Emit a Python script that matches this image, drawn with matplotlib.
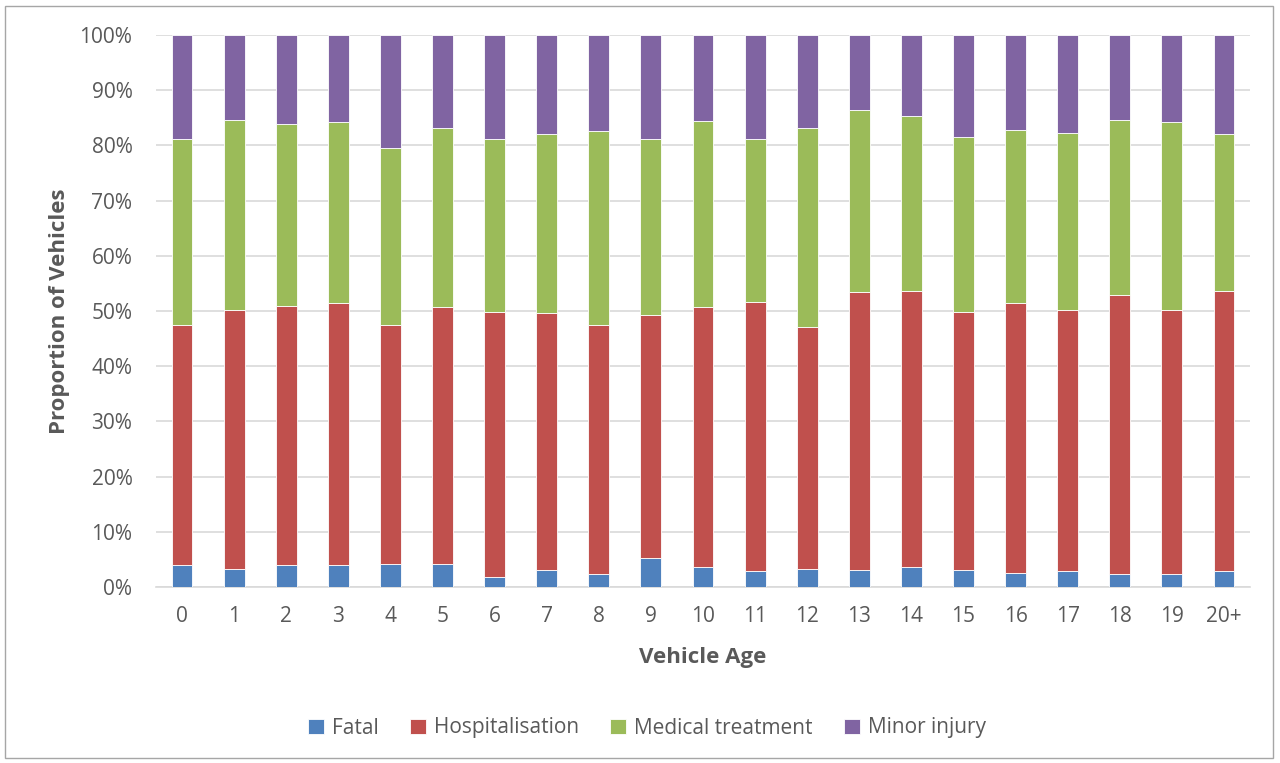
import matplotlib
matplotlib.use("Agg")
import matplotlib.pyplot as plt
from matplotlib.patches import Rectangle
import numpy as np

# Vehicle age categories
ages = ["0", "1", "2", "3", "4", "5", "6", "7", "8", "9", "10",
        "11", "12", "13", "14", "15", "16", "17", "18", "19", "20+"]

# Share of vehicles by injury severity (% of each age group)
fatal = [4.0, 3.3, 4.0, 4.0, 4.2, 4.2, 1.8, 3.1, 2.4, 5.3, 3.6,
         2.9, 3.3, 3.1, 3.6, 3.1, 2.5, 2.9, 2.4, 2.4, 2.9]
hospitalisation = [43.5, 46.9, 46.9, 47.4, 43.3, 46.5, 48.0, 46.5, 45.1, 44.0, 47.1,
                   48.7, 43.8, 50.3, 50.0, 46.7, 48.9, 47.3, 50.5, 47.8, 50.7]
medical_treatment = [33.7, 34.4, 33.0, 32.8, 32.0, 32.5, 31.4, 32.5, 35.1, 31.9, 33.7,
                     29.6, 36.1, 33.0, 31.7, 31.7, 31.4, 32.0, 31.7, 34.0, 28.5]
minor_injury = [18.8, 15.4, 16.1, 15.8, 20.5, 16.8, 18.8, 17.9, 17.4, 18.8, 15.6,
                18.8, 16.8, 13.6, 14.7, 18.5, 17.2, 17.8, 15.4, 15.8, 17.9]

series = [
    ("Fatal", fatal, "#4F81BD"),
    ("Hospitalisation", hospitalisation, "#C0504D"),
    ("Medical treatment", medical_treatment, "#9BBB59"),
    ("Minor injury", minor_injury, "#8064A2"),
]

plt.rcParams["font.family"] = ["Open Sans", "DejaVu Sans"]
text_color = "#595959"

fig = plt.figure(figsize=(12.8, 7.63), dpi=100)
ax = fig.add_axes([156 / 1280, 1 - 587 / 763, (1250 - 156) / 1280, (587 - 35) / 763])

x = np.arange(len(ages))
bottom = np.zeros(len(ages))
handles = []
for name, vals, color in series:
    v = np.array(vals, dtype=float)
    b = ax.bar(x, v, width=0.4, bottom=bottom, color=color, edgecolor="white",
               linewidth=0.6, label=name, zorder=3)
    handles.append(b)
    bottom += v

ax.set_xlim(-0.5, len(ages) - 0.5)
ax.set_ylim(0, 100)
ax.set_yticks(np.arange(0, 101, 10))
ax.set_yticklabels([f"{t}%" for t in range(0, 101, 10)])
ax.set_xticks(x)
ax.set_xticklabels(ages)

ax.grid(axis="y", color="#D9D9D9", linewidth=1.2, zorder=0)
for side in ["top", "right", "left"]:
    ax.spines[side].set_visible(False)
ax.spines["bottom"].set_color("#D9D9D9")
ax.spines["bottom"].set_linewidth(1.2)
ax.tick_params(axis="both", length=0, labelsize=15, colors=text_color)
ax.tick_params(axis="y", pad=17)
ax.tick_params(axis="x", pad=14)

ax.set_ylabel("Proportion of Vehicles", fontsize=16, fontweight="bold",
              color=text_color, labelpad=7)
ax.set_xlabel("Vehicle Age", fontsize=16, fontweight="bold",
              color=text_color, labelpad=14)

fig.legend(handles=handles, labels=[s[0] for s in series], loc="center",
           bbox_to_anchor=(647 / 1280, 1 - 728 / 763), ncol=4, frameon=False,
           fontsize=15, handlelength=0.75, handleheight=0.75, handletextpad=0.4,
           columnspacing=1.5, labelcolor=text_color)

# Chart area border
fig.patches.append(Rectangle((5 / 1280, 5 / 763), 1268 / 1280, 752 / 763,
                             transform=fig.transFigure, fill=False,
                             edgecolor="#A6A6A6", linewidth=1.0))

fig.savefig("out.png", dpi=100, facecolor="white")
